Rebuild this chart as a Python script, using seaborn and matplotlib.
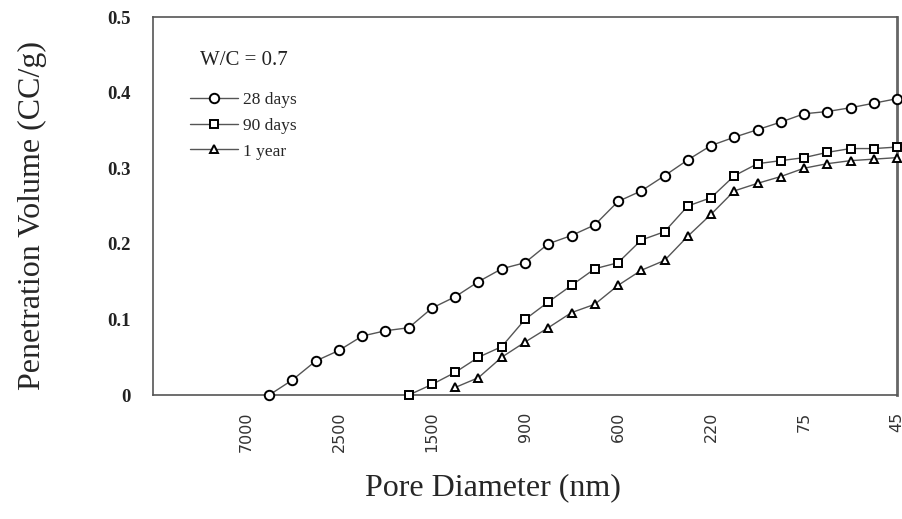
import pandas as pd
import matplotlib
matplotlib.use('Agg')
import matplotlib.pyplot as plt
import seaborn as sns

# pore diameter tick labels (every 4th reading position)
tick_pos = [4, 8, 12, 16, 20, 24, 28, 32]
tick_labels = ['7000', '2500', '1500', '900', '600', '220', '75', '45']

# reading positions along the x axis for each series
idx_28d = list(range(5, 33))
idx_90d = list(range(11, 33))
idx_1y = list(range(13, 33))

# penetration volume (CC/g)
vol_28d = [0.0, 0.02, 0.045, 0.059, 0.078, 0.085, 0.089, 0.115, 0.13, 0.15,
           0.167, 0.175, 0.2, 0.211, 0.225, 0.256, 0.27, 0.29, 0.311, 0.33,
           0.341, 0.351, 0.361, 0.372, 0.375, 0.38, 0.386, 0.392]
vol_90d = [0.0, 0.014, 0.03, 0.05, 0.064, 0.1, 0.123, 0.145, 0.167, 0.175,
           0.205, 0.216, 0.25, 0.261, 0.29, 0.306, 0.31, 0.314, 0.321, 0.326,
           0.326, 0.328]
vol_1y = [0.01, 0.023, 0.05, 0.07, 0.089, 0.109, 0.12, 0.145, 0.165, 0.178,
          0.21, 0.239, 0.27, 0.28, 0.289, 0.3, 0.306, 0.31, 0.312, 0.314]

sns.set_style('white')
plt.rcParams['font.family'] = ['Liberation Serif', 'DejaVu Serif']

fig = plt.figure(figsize=(9.03, 5.19), dpi=100)
ax = fig.add_axes([0.1694, 0.2389, 0.8240, 0.7283])

series = [
    (idx_28d, vol_28d, 'o', 6.8, '28 days'),
    (idx_90d, vol_90d, 's', 6.3, '90 days'),
    (idx_1y, vol_1y, '^', 6.3, '1 year'),
]
for xs, ys, mk, ms, lab in series:
    sns.lineplot(x=xs, y=ys, ax=ax, color='#555555', linewidth=1.0,
                 marker=mk, markersize=ms, markerfacecolor='white',
                 markeredgecolor='black', markeredgewidth=1.4, label=lab,
                 clip_on=False, zorder=3)

ax.set_xlim(0, 32)
ax.set_ylim(0, 0.5)
ax.set_xticks(tick_pos)
ax.set_xticklabels(tick_labels, rotation=90, family='DejaVu Sans',
                   fontsize=11.5, color='#333333')
ax.set_yticks([0, 0.1, 0.2, 0.3, 0.4, 0.5])
ax.set_yticklabels(['0', '0.1', '0.2', '0.3', '0.4', '0.5'],
                   fontsize=13.5, fontweight='bold', color='#222222')
ax.tick_params(axis='x', length=0, pad=12)
ax.tick_params(axis='y', length=0, pad=16)

for side in ['left', 'top', 'bottom']:
    ax.spines[side].set_color('#555555')
    ax.spines[side].set_linewidth(1.2)
ax.spines['right'].set_color('#666666')
ax.spines['right'].set_linewidth(2.0)

ax.set_xlabel('Pore Diameter (nm)', fontsize=23)
ax.set_ylabel('Penetration Volume (CC/g)', fontsize=23)
ax.xaxis.set_label_coords(0.457, -0.206)
ax.yaxis.set_label_coords(-0.142, 0.476)

ax.text(0.063, 0.886, 'W/C = 0.7', transform=ax.transAxes, fontsize=15,
        va='center', ha='left', color='#222222')
ax.legend(loc='upper left', bbox_to_anchor=(0.04, 0.82), frameon=False,
          fontsize=12.5, handlelength=2.8, handletextpad=0.3,
          labelspacing=0.55, borderaxespad=0)

fig.savefig('out.png', dpi=100)
